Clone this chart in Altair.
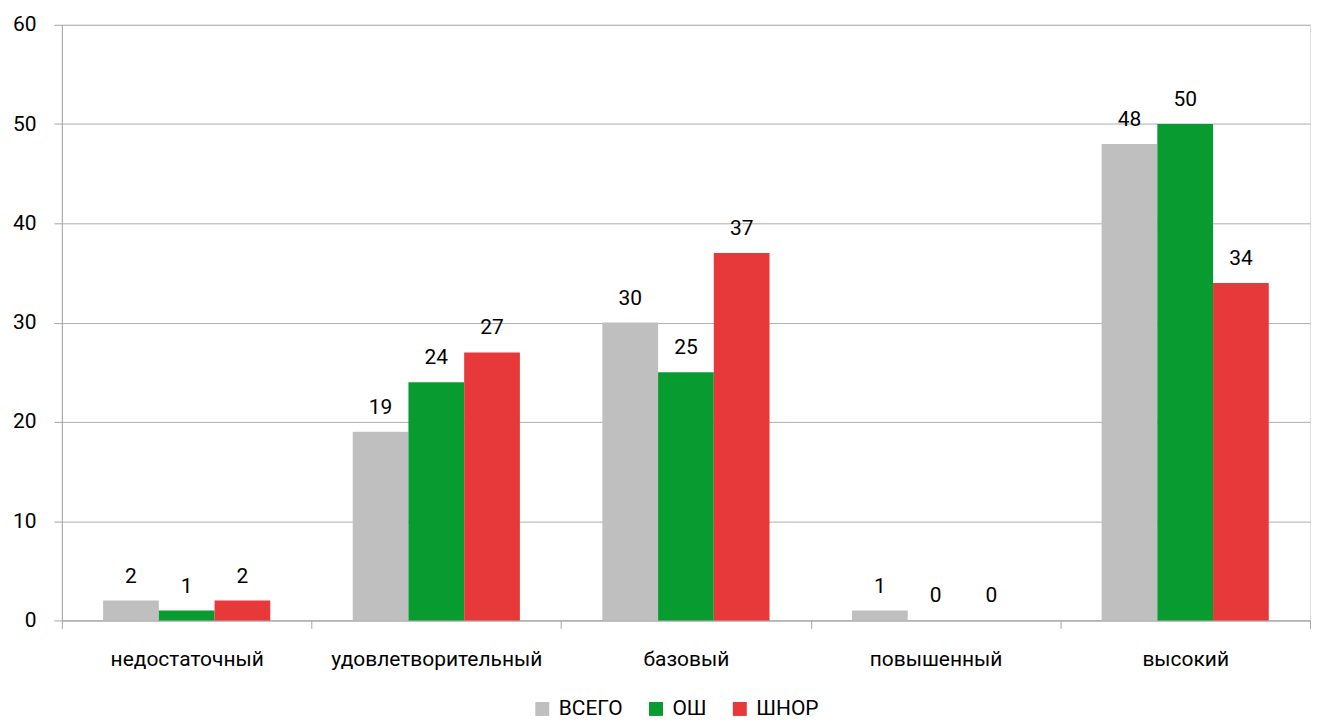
import altair as alt
import pandas as pd

categories = ["недостаточный", "удовлетворительный", "базовый", "повышенный", "высокий"]
series = ["ВСЕГО", "ОШ", "ШНОР"]
vsego = [2, 19, 30, 1, 48]
osh = [1, 24, 25, 0, 50]
shnor = [2, 27, 37, 0, 34]
colors = ["#BFBFBF", "#089B30", "#E8393A"]

rows = []
for i, c in enumerate(categories):
    for s, vals in zip(series, [vsego, osh, shnor]):
        rows.append({"cat": c, "series": s, "value": vals[i]})
df = pd.DataFrame(rows)

FONT = "Roboto"
FS = 21

x = alt.X("cat:N", sort=categories, title=None,
          scale=alt.Scale(paddingInner=0, paddingOuter=0),
          axis=alt.Axis(labelAngle=0, labelFontSize=FS, labelColor="#000000",
                        labelPadding=20, labelLimit=0, tickSize=8, tickColor="#A6A6A6",
                        domainColor="#A6A6A6", tickBand="extent",
                        grid=False))
y = alt.Y("value:Q", title=None,
          scale=alt.Scale(domain=[0, 60], nice=False),
          axis=alt.Axis(values=[0, 10, 20, 30, 40, 50, 60], labelFontSize=FS,
                        labelColor="#000000", labelPadding=18, tickSize=8,
                        tickColor="#A6A6A6", domainColor="#A6A6A6",
                        gridColor="#ADADAD", gridWidth=1))
xoff = alt.XOffset("series:N", sort=series,
                   scale=alt.Scale(paddingInner=0, paddingOuter=0.74))
color = alt.Color("series:N", sort=series,
                  scale=alt.Scale(domain=series, range=colors),
                  legend=alt.Legend(title=None, orient="none", direction="horizontal",
                                    legendX=471, legendY=675,
                                    symbolType="square", symbolSize=196,
                                    symbolStrokeWidth=0, labelFontSize=FS,
                                    labelColor="#000000", columnPadding=22,
                                    labelOffset=6))

bars = alt.Chart(df).mark_bar().encode(x=x, y=y, xOffset=xoff, color=color)
labels = alt.Chart(df).mark_text(baseline="bottom", dy=-14, fontSize=FS, color="#000000").encode(
    x=alt.X("cat:N", sort=categories), y="value:Q", xOffset=xoff, text="value:Q")

chart = (bars + labels).properties(
    width=1251, height=597,
    padding={"left": 4, "top": 5, "right": 0, "bottom": 0},
).configure_view(stroke=None).configure(font=FONT)

chart.save("out.html", embed_options={"renderer": "svg", "actions": False})
